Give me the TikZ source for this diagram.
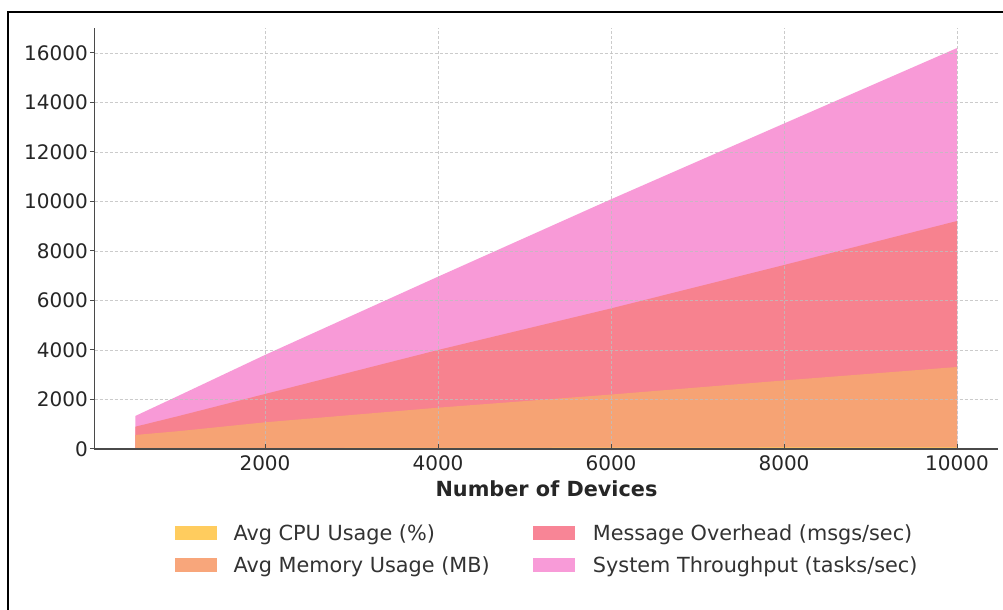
\documentclass[tikz,border=0pt]{standalone}
\usepackage{fontspec}
\setmainfont{DejaVu Sans}
\definecolor{cpuc}{HTML}{FFCC5E}
\definecolor{memc}{HTML}{F6A374}
\definecolor{msgc}{HTML}{F7828F}
\definecolor{thrc}{HTML}{F89AD7}
\definecolor{memL}{HTML}{F8A67B}
\definecolor{msgL}{HTML}{F88596}
\definecolor{thrL}{HTML}{F89BD8}
\definecolor{tickc}{HTML}{262626}
\definecolor{legc}{HTML}{333333}
\definecolor{spinec}{HTML}{4A4A4A}
\definecolor{gridc}{HTML}{BEBEBE}
\begin{document}
\begin{tikzpicture}[x=1bp,y=1bp,
  gridline/.style={draw=gridc,line width=0.6bp,dash pattern=on 3bp off 2bp,opacity=0.8},
  spine/.style={draw=spinec,line width=1.2bp},
  tickmark/.style={draw=spinec,line width=1bp},
  ticklab/.style={text=tickc,inner sep=0pt,font=\fontsize{20bp}{22bp}\selectfont},
  legtext/.style={text=legc,inner sep=0pt,anchor=base west,font=\fontsize{20.8bp}{23bp}\selectfont},
  legpatch/.style={inner sep=0pt,minimum width=42bp,minimum height=14bp,anchor=south west}]
\useasboundingbox (0,0) rectangle (1003,610);
\fill[white] (0,0) rectangle (1003,610);
% outer frame (cropped)
\draw[black,line width=2bp] (7.7,0) -- (7.7,597.7) -- (1003,597.7);
% stacked areas in data coordinates
\begin{scope}[shift={(92,161)},x=0.0865bp,y=0.02475bp]
  \fill[thrc] (500,0) -- (500,1333) -- (1000,2150) -- (2000,3800) -- (4000,6962) -- (6000,10089) -- (8000,13150) -- (10000,16200) -- (10000,0) -- cycle;
  \fill[msgc] (500,0) -- (500,900) -- (1000,1330) -- (2000,2222) -- (4000,4000) -- (6000,5680) -- (8000,7434) -- (10000,9212) -- (10000,0) -- cycle;
  \fill[memc] (500,0) -- (500,566) -- (1000,720) -- (2000,1078) -- (4000,1669) -- (6000,2200) -- (8000,2770) -- (10000,3313) -- (10000,0) -- cycle;
  \fill[cpuc] (500,0) -- (500,30) -- (10000,70) -- (10000,0) -- cycle;
  % grid
  \foreach \gx in {2000,4000,6000,8000,10000}
    \draw[gridline] (\gx,0) -- (\gx,17010);
  \foreach \gy in {2000,4000,6000,8000,10000,12000,14000,16000}
    \draw[gridline] (30,\gy) -- (10475,\gy);
  % ticks
  \foreach \gx in {2000,4000,6000,8000,10000}
    \draw[tickmark] (\gx,0) -- ++(0,190);
\end{scope}
% spines
\coordinate (yTop) at (94.7,581.7);
\coordinate (orig) at (94.7,161);
\coordinate (xEnd) at (998,161);
\draw[spine] (yTop) -- (orig) -- (xEnd);
% y ticks and labels
\foreach \v [evaluate=\v as \py using 161+\v*0.02475] in {0,2000,4000,6000,8000,10000,12000,14000,16000}{
  \draw[tickmark] (94.7,\py) -- (90.2,\py);
  \node[ticklab,anchor=base east] (yl\v) at (88,\py-7.3) {\v};
}
% x tick labels
\foreach \v [evaluate=\v as \px using 92+\v*0.0865] in {2000,4000,6000,8000,10000}{
  \node[ticklab,anchor=base] (xl\v) at (\px,139) {\v};
}
\node[anchor=base,inner sep=0pt,text=tickc,font=\fontsize{20.8bp}{23bp}\selectfont\bfseries] (xlabel) at (546.5,113) {Number of Devices};
% legend
\node[legpatch,fill=cpuc] (p1) at (175,69.3) {};
\node[legpatch,fill=memL] (p2) at (175,37.7) {};
\node[legpatch,fill=msgL] (p3) at (532.7,69.3) {};
\node[legpatch,fill=thrL] (p4) at (532.7,37.7) {};
\node[legtext] (t1) at (233.3,69) {Avg CPU Usage (\%)};
\node[legtext] (t2) at (233.3,37.3) {Avg Memory Usage (MB)};
\node[legtext] (t3) at (592.7,69) {Message Overhead (msgs/sec)};
\node[legtext] (t4) at (592.7,37.3) {System Throughput (tasks/sec)};
\end{tikzpicture}
\end{document}
